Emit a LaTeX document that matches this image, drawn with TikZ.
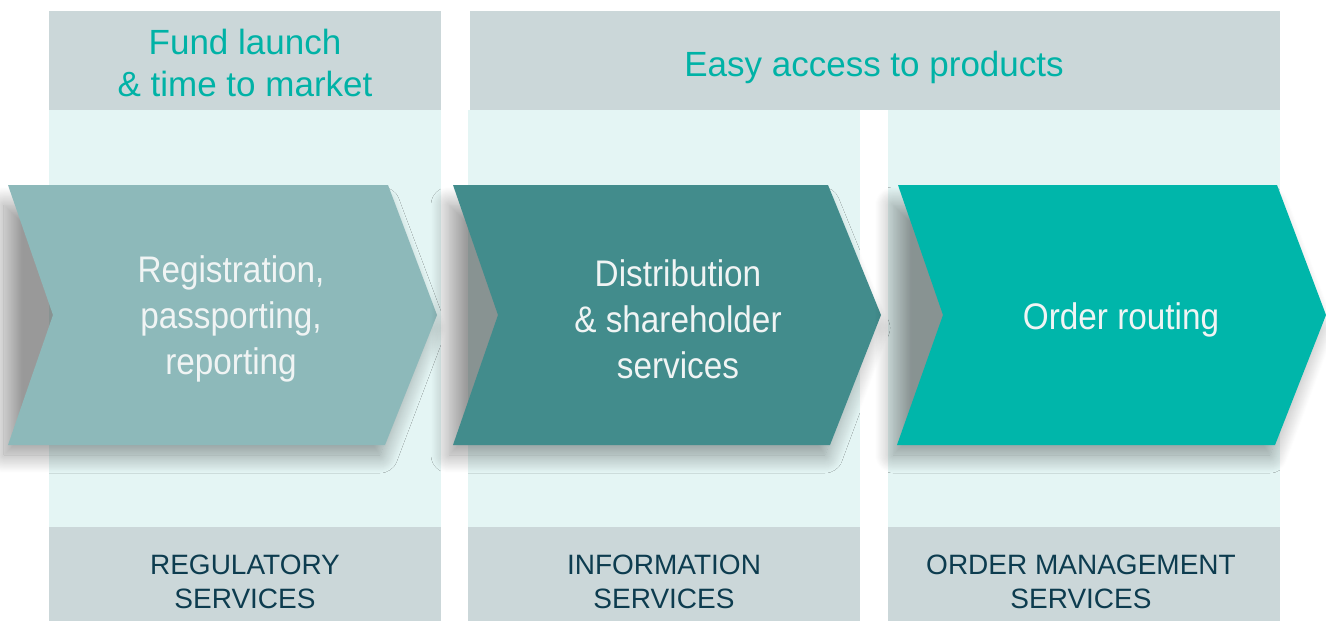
\documentclass[tikz,border=0pt]{standalone}
\usepackage{fontspec}
\setmainfont{Liberation Sans}
\newfontfamily\narrowfont[FakeStretch=0.9]{Liberation Sans}
\usetikzlibrary{shadows.blur}

\definecolor{headgray}{HTML}{CBD7D9}
\definecolor{bandlight}{HTML}{E4F5F4}
\definecolor{chevone}{HTML}{8DB9BA}
\definecolor{chevtwo}{HTML}{428C8C}
\definecolor{chevthree}{HTML}{00B6AA}
\definecolor{headtext}{HTML}{00B2A6}
\definecolor{foottext}{HTML}{0D3C4F}
\definecolor{chevtext}{HTML}{F0F4F4}

\tikzset{
  chevshadow/.style={blur shadow={shadow xshift=-10pt, shadow yshift=-10pt,
      shadow blur radius=18pt, shadow blur steps=20, shadow opacity=40}},
  steplabel/.style={font=\narrowfont\fontsize{37}{46}\selectfont,
      text=chevtext, align=center, inner sep=0pt},
  headlabel/.style={font=\fontsize{35}{42}\selectfont,
      text=headtext, align=center, inner sep=0pt},
  footlabel/.style={font=\fontsize{28}{34}\selectfont,
      text=foottext, align=center, inner sep=0pt}
}

\begin{document}
\begin{tikzpicture}[x=1pt,y=-1pt]
  \useasboundingbox (0,0) rectangle (1326,621);

  % header bars
  \fill[headgray] (49,11) rectangle (441,110);
  \fill[headgray] (470,11) rectangle (1280,110);
  \node[headlabel] (launch) at (245,63) {Fund launch\\\& time to market};
  \node[headlabel] (access) at (874,67) {Easy access to products};

  % light bands
  \fill[bandlight] (49,110) rectangle (441,527);
  \fill[bandlight] (468,110) rectangle (860,527);
  \fill[bandlight] (888,110) rectangle (1280,527);

  % footer bars
  \fill[headgray] (49,527) rectangle (441,621);
  \fill[headgray] (468,527) rectangle (860,621);
  \fill[headgray] (888,527) rectangle (1280,621);
  \node[footlabel] (regul) at (245,582) {REGULATORY\\SERVICES};
  \node[footlabel] (inform) at (664,582) {INFORMATION\\SERVICES};
  \node[footlabel] (order) at (1081,582) {ORDER MANAGEMENT\\SERVICES};

  % chevrons (shadow first, notch filled)
  \path[chevshadow] (14,195) -- (392,195) -- (438,318) -- (390,445)
       -- (14,445) -- cycle;
  \fill[chevone] (8,185) -- (388,185) -- (437,315) -- (385,445)
       -- (8,445) -- (53,315) -- cycle;
  \node[steplabel] (regist) at (231,319) {Registration,\\passporting,\\reporting};

  \path[chevshadow] (459,195) -- (832,195) -- (882,318) -- (835,445)
       -- (459,445) -- cycle;
  \fill[chevtwo] (453,185) -- (828,185) -- (881,315) -- (830,445)
       -- (453,445) -- (498,315) -- cycle;
  \node[steplabel] (distrib) at (678,319) {Distribution\\\& shareholder\\services};

  \path[chevshadow] (903,195) -- (1281,195) -- (1327,318) -- (1280,445)
       -- (903,445) -- cycle;
  \fill[chevthree] (898,185) -- (1277,185) -- (1326,315) -- (1275,445)
       -- (897,445) -- (943,315) -- cycle;
  \node[steplabel] (routing) at (1121,320) {Order routing};
\end{tikzpicture}
\end{document}
